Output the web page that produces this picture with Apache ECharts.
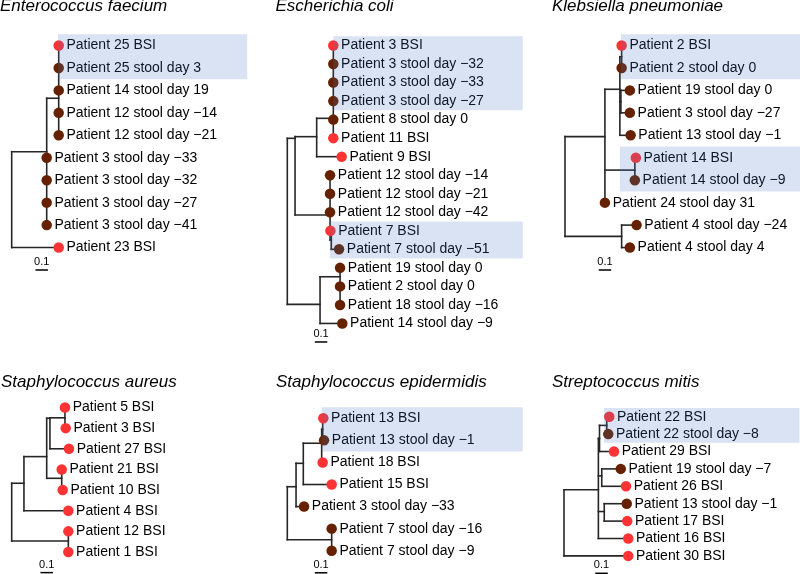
<!DOCTYPE html>
<html>
<head>
<meta charset="utf-8">
<script src="https://cdn.jsdelivr.net/npm/echarts@6/dist/echarts.min.js"></script>
<style>html,body{margin:0;padding:0;background:#fff;}#c{width:800px;height:574px;}</style>
</head>
<body>
<div id="c"></div>
<script>
// ---------- DATA ----------
// Branch positions are in substitutions/site from each tree's root; y of internal nodes in leaf-row units.
const titles = ['Enterococcus faecium', 'Escherichia coli', 'Klebsiella pneumoniae',
                'Staphylococcus aureus', 'Staphylococcus epidermidis', 'Streptococcus mitis'];

// Enterococcus faecium
const efLeaves = ['Patient 25 BSI', 'Patient 25 stool day 3', 'Patient 14 stool day 19', 'Patient 12 stool day −14',
  'Patient 12 stool day −21', 'Patient 3 stool day −33', 'Patient 3 stool day −32', 'Patient 3 stool day −27',
  'Patient 3 stool day −41', 'Patient 23 BSI'];
const efTypes = ['BSI', 'stool', 'stool', 'stool', 'stool', 'stool', 'stool', 'stool', 'stool', 'BSI'];
const efLeafX = [0.376, 0.376, 0.376, 0.376, 0.376, 0.28, 0.28, 0.28, 0.28, 0.376];
const efNodes = [
  { id: 'root', x: 0, y: 6.9, kids: ['A', 9] },
  { id: 'A', x: 0.28, y: 4.73, kids: ['B', 5, 6, 7, 8] },
  { id: 'B', x: 0.376, y: 2.35, kids: [0, 1, 2, 3, 4] }
];
const efBoxes = [[0.37, 0, 1]];

// Escherichia coli
const ecLeaves = ['Patient 3 BSI', 'Patient 3 stool day −32', 'Patient 3 stool day −33', 'Patient 3 stool day −27',
  'Patient 8 stool day 0', 'Patient 11 BSI', 'Patient 9 BSI', 'Patient 12 stool day −14', 'Patient 12 stool day −21',
  'Patient 12 stool day −42', 'Patient 7 BSI', 'Patient 7 stool day −51', 'Patient 19 stool day 0',
  'Patient 2 stool day 0', 'Patient 18 stool day −16', 'Patient 14 stool day −9'];
const ecTypes = ['BSI', 'stool', 'stool', 'stool', 'stool', 'BSI', 'BSI', 'stool', 'stool', 'stool', 'BSI', 'stool',
  'stool', 'stool', 'stool', 'stool'];
const ecLeafX = [0.368, 0.368, 0.368, 0.368, 0.368, 0.368, 0.435, 0.342, 0.342, 0.342, 0.345, 0.414, 0.422, 0.422, 0.422, 0.44];
const ecNodes = [
  { id: 'root', x: 0, y: 9.5, kids: ['C', 'H'] },
  { id: 'C', x: 0.062, y: 5.01, kids: ['D', 'E'] },
  { id: 'D', x: 0.235, y: 4.92, kids: ['F', 6] },
  { id: 'F', x: 0.368, y: 3.93, kids: [0, 1, 2, 3, 4, 5] },
  { id: 'E', x: 0.342, y: 9.15, kids: [7, 8, 9, 'G'] },
  { id: 'G', x: 0.352, y: 10.5, kids: [10, 11] },
  { id: 'H', x: 0.262, y: 13.97, kids: ['I', 15] },
  { id: 'I', x: 0.422, y: 12.48, kids: [12, 13, 14] }
];
const ecBoxes = [[0.368, 0, 3], [0.342, 10, 11]];

// Klebsiella pneumoniae
const kpLeaves = ['Patient 2 BSI', 'Patient 2 stool day 0', 'Patient 19 stool day 0', 'Patient 3 stool day −27',
  'Patient 13 stool day −1', 'Patient 14 BSI', 'Patient 14 stool day −9', 'Patient 24 stool day 31',
  'Patient 4 stool day −24', 'Patient 4 stool day 4'];
const kpTypes = ['BSI', 'stool', 'stool', 'stool', 'stool', 'BSI', 'stool', 'stool', 'stool', 'stool'];
const kpLeafX = [0.454, 0.454, 0.52, 0.52, 0.526, 0.568, 0.56, 0.32, 0.574, 0.52];
const kpNodes = [
  { id: 'root', x: 0, y: 6.3, kids: ['J', 'O'] },
  { id: 'J', x: 0.32, y: 4.06, kids: ['K', 'L', 7] },
  { id: 'K', x: 0.44, y: 1.95, kids: ['M', 'N', 4] },
  { id: 'M', x: 0.454, y: 0.5, kids: [0, 1] },
  { id: 'N', x: 0.448, y: 2.5, kids: [2, 3] },
  { id: 'L', x: 0.56, y: 5.55, kids: [5, 6] },
  { id: 'O', x: 0.454, y: 8.5, kids: [8, 9] }
];
const kpBoxes = [[0.448, 0, 1], [0.44, 5, 6]];

// Staphylococcus aureus
const saLeaves = ['Patient 5 BSI', 'Patient 3 BSI', 'Patient 27 BSI', 'Patient 21 BSI', 'Patient 10 BSI',
  'Patient 4 BSI', 'Patient 12 BSI', 'Patient 1 BSI'];
const saTypes = ['BSI', 'BSI', 'BSI', 'BSI', 'BSI', 'BSI', 'BSI', 'BSI'];
const saLeafX = [0.426, 0.432, 0.458, 0.4, 0.408, 0.453, 0.453, 0.453];
const saNodes = [
  { id: 'root', x: 0, y: 5, kids: ['P', 'U'] },
  { id: 'P', x: 0.098, y: 3.67, kids: ['Q', 5] },
  { id: 'Q', x: 0.28, y: 2.38, kids: ['R', 'T'] },
  { id: 'R', x: 0.306, y: 0.52, kids: ['S', 2] },
  { id: 'S', x: 0.426, y: 0.5, kids: [0, 1] },
  { id: 'T', x: 0.4, y: 3.43, kids: [3, 4] },
  { id: 'U', x: 0.453, y: 6.47, kids: [6, 7] }
];
const saBoxes = [];

// Staphylococcus epidermidis
const seLeaves = ['Patient 13 BSI', 'Patient 13 stool day −1', 'Patient 18 BSI', 'Patient 15 BSI',
  'Patient 3 stool day −33', 'Patient 7 stool day −16', 'Patient 7 stool day −9'];
const seTypes = ['BSI', 'stool', 'BSI', 'BSI', 'stool', 'stool', 'stool'];
const seLeafX = [0.288, 0.294, 0.283, 0.355, 0.134, 0.355, 0.355];
const seNodes = [
  { id: 'root', x: 0, y: 4.3, kids: ['V', 'Z'] },
  { id: 'V', x: 0.07, y: 3.1, kids: ['W', 4] },
  { id: 'W', x: 0.128, y: 2.04, kids: ['X', 3] },
  { id: 'X', x: 0.275, y: 1.13, kids: ['Y', 2] },
  { id: 'Y', x: 0.283, y: 0.5, kids: [0, 1] },
  { id: 'Z', x: 0.355, y: 5.5, kids: [5, 6] }
];
const seBoxes = [[0.275, 0, 1]];

// Streptococcus mitis
const smLeaves = ['Patient 22 BSI', 'Patient 22 stool day −8', 'Patient 29 BSI', 'Patient 19 stool day −7',
  'Patient 26 BSI', 'Patient 13 stool day −1', 'Patient 17 BSI', 'Patient 16 BSI', 'Patient 30 BSI'];
const smTypes = ['BSI', 'stool', 'BSI', 'stool', 'BSI', 'stool', 'BSI', 'BSI', 'BSI'];
const smLeafX = [0.362, 0.354, 0.4, 0.454, 0.496, 0.502, 0.506, 0.514, 0.514];
const smNodes = [
  { id: 'root', x: 0, y: 6, kids: ['AA', 8] },
  { id: 'AA', x: 0.275, y: 4.2, kids: ['BB', 'CC', 'DD', 7] },
  { id: 'BB', x: 0.284, y: 1.25, kids: ['EE', 2] },
  { id: 'EE', x: 0.342, y: 0.5, kids: [0, 1] },
  { id: 'CC', x: 0.302, y: 3.4, kids: [3, 4] },
  { id: 'DD', x: 0.322, y: 5.45, kids: [5, 6] }
];
const smBoxes = [[0.32, 0, 1]];

// scale bars: offset from root, length, label
const scaleOffsets = [0.19, 0.22, 0.27, 0.23, 0.22, 0.25];
const scaleLength = 0.1;
const scaleLabel = '0.1';

// ---------- STYLE / LAYOUT ----------
const typeColors = { BSI: '#FF3333', stool: '#662200' };
const FONT = '"Liberation Sans", Arial, Helvetica, sans-serif';
const PX_PER_UNIT = 125;
const GRID_W = 235.5;
const layout = [
  { left: 11.7, first: 45.5, step: 22.45, tl: 0, tt: -2 },
  { left: 287.3, first: 45.5, step: 18.53, tl: 275.5, tt: -2 },
  { left: 565, first: 45.5, step: 22.45, tl: 552, tt: -2 },
  { left: 11.7, first: 407.5, step: 20.64, tl: 1, tt: 373.5 },
  { left: 287.3, first: 418.3, step: 22.07, tl: 276, tt: 373.5 },
  { left: 564, first: 416.7, step: 17.4, tl: 552, tt: 373.5 }
];

const trees = [
  [efLeaves, efTypes, efLeafX, efNodes, efBoxes],
  [ecLeaves, ecTypes, ecLeafX, ecNodes, ecBoxes],
  [kpLeaves, kpTypes, kpLeafX, kpNodes, kpBoxes],
  [saLeaves, saTypes, saLeafX, saNodes, saBoxes],
  [seLeaves, seTypes, seLeafX, seNodes, seBoxes],
  [smLeaves, smTypes, smLeafX, smNodes, smBoxes]
];

const option = {
  animation: false,
  backgroundColor: '#fff',
  title: [], grid: [], xAxis: [], yAxis: [], series: []
};

trees.forEach(([leaves, types, xs, nodes, boxes], i) => {
  const L = layout[i];
  const n = leaves.length;
  option.title.push({
    text: titles[i], left: L.tl, top: L.tt, padding: 0,
    textStyle: { fontStyle: 'italic', fontWeight: 'normal', fontSize: 17, color: '#000', fontFamily: FONT }
  });
  option.grid.push({ left: L.left, top: L.first - L.step / 2, width: GRID_W, height: n * L.step });
  option.xAxis.push({ gridIndex: i, type: 'value', min: 0, max: GRID_W / PX_PER_UNIT, show: false });
  option.yAxis.push({ gridIndex: i, type: 'value', min: -0.5, max: n - 0.5, inverse: true, show: false });

  const pos = {};
  nodes.forEach(nd => { pos[nd.id] = [nd.x, nd.y]; });
  const kidPos = k => (typeof k === 'number') ? [xs[k], k] : pos[k];
  const segs = [];
  nodes.forEach(nd => {
    const ks = nd.kids.map(kidPos);
    const ys = ks.map(p => p[1]);
    segs.push([nd.x, Math.min(...ys), nd.x, Math.max(...ys)]);
    ks.forEach(p => { if (p[0] > nd.x + 1e-6) segs.push([nd.x, p[1], p[0], p[1]]); });
  });

  option.series.push({
    type: 'custom', xAxisIndex: i, yAxisIndex: i, z: 2, silent: true,
    encode: { x: [0, 2], y: [1, 3] },
    data: segs,
    renderItem: (params, api) => {
      const a = api.coord([api.value(0), api.value(1)]);
      const b = api.coord([api.value(2), api.value(3)]);
      return { type: 'line', shape: { x1: a[0], y1: a[1], x2: b[0], y2: b[1] },
        style: { stroke: '#262626', lineWidth: 1.6, lineCap: 'square' } };
    }
  });

  option.series.push({
    type: 'scatter', xAxisIndex: i, yAxisIndex: i, z: 3, clip: false, silent: true,
    symbolSize: 10.5,
    itemStyle: { opacity: 1 },
    data: leaves.map((name, k) => ({ name, value: [xs[k], k], itemStyle: { color: typeColors[types[k]], opacity: 1 } })),
    label: { show: true, position: 'right', distance: 2.5, formatter: '{b}', fontSize: 14, color: '#000', fontFamily: FONT }
  });

  option.series.push({
    type: 'custom', xAxisIndex: i, yAxisIndex: i, z: 2, silent: true, clip: false,
    encode: { x: 0, y: 1 },
    data: [[scaleOffsets[i], n, scaleLength]],
    renderItem: (params, api) => {
      const a = api.coord([api.value(0), api.value(1)]);
      const b = api.coord([api.value(0) + api.value(2), api.value(1)]);
      return { type: 'group', children: [
        { type: 'line', shape: { x1: a[0], y1: a[1], x2: b[0], y2: b[1] }, style: { stroke: '#000', lineWidth: 1.5 } },
        { type: 'text', style: { text: scaleLabel, x: (a[0] + b[0]) / 2, y: a[1] - 8, align: 'center', verticalAlign: 'middle',
          fontSize: 11, fontFamily: FONT, fill: '#000' } }
      ] };
    }
  });

  if (boxes.length) {
    option.series.push({
      type: 'custom', xAxisIndex: i, yAxisIndex: i, z: 10, silent: true, clip: false,
      encode: { x: 0, y: [1, 2] },
      data: boxes,
      renderItem: (params, api) => {
        const cs = params.coordSys;
        const a = api.coord([api.value(0), api.value(1) - 0.5]);
        const b = api.coord([api.value(0), api.value(2) + 0.5]);
        return { type: 'rect', shape: { x: a[0], y: a[1], width: cs.x + cs.width - a[0], height: b[1] - a[1] },
          style: { fill: 'rgba(68,114,196,0.2)' } };
      }
    });
  }
});

const chart = echarts.init(document.getElementById('c'), null, { renderer: 'canvas' });
chart.setOption(option);
</script>
</body>
</html>
